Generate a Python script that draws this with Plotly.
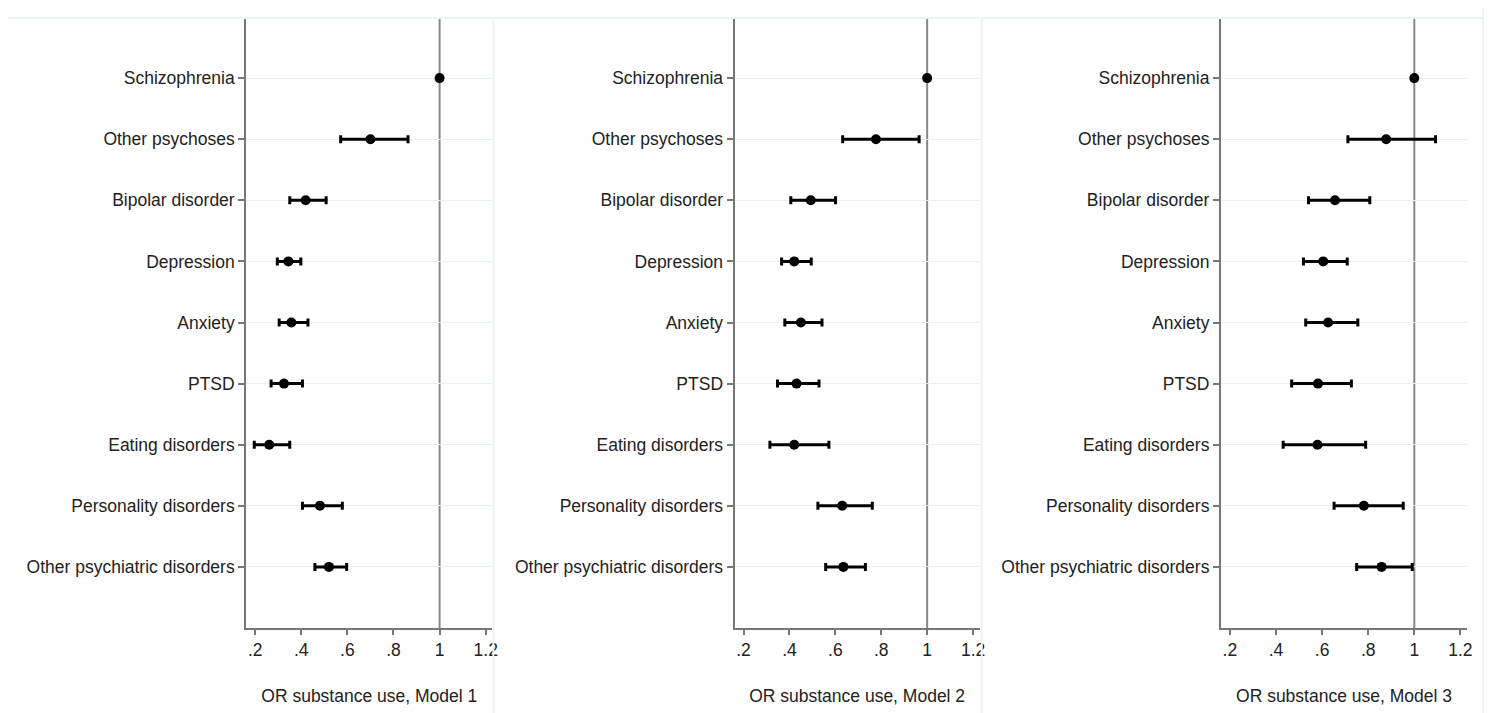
import plotly.graph_objects as go

categories = ["Schizophrenia", "Other psychoses", "Bipolar disorder", "Depression", "Anxiety",
              "PTSD", "Eating disorders", "Personality disorders", "Other psychiatric disorders"]
positions = [1, 2, 3, 4, 5, 6, 7, 8, 9]

m1_or = [1.0, 0.700, 0.419, 0.344, 0.357, 0.325, 0.261, 0.481, 0.520]
m1_lo = [1.0, 0.571, 0.350, 0.296, 0.304, 0.269, 0.196, 0.405, 0.459]
m1_hi = [1.0, 0.863, 0.508, 0.398, 0.429, 0.405, 0.350, 0.578, 0.597]

m2_or = [1.0, 0.777, 0.493, 0.421, 0.450, 0.431, 0.421, 0.630, 0.635]
m2_lo = [1.0, 0.632, 0.406, 0.366, 0.380, 0.348, 0.315, 0.524, 0.558]
m2_hi = [1.0, 0.965, 0.601, 0.495, 0.542, 0.529, 0.572, 0.761, 0.731]

m3_or = [1.0, 0.878, 0.656, 0.605, 0.626, 0.582, 0.580, 0.781, 0.858]
m3_lo = [1.0, 0.712, 0.541, 0.519, 0.529, 0.468, 0.431, 0.652, 0.750]
m3_hi = [1.0, 1.092, 0.807, 0.709, 0.755, 0.727, 0.789, 0.952, 0.991]

x_ticks = [0.2, 0.4, 0.6, 0.8, 1.0, 1.2]
x_ticktext = [".2", ".4", ".6", ".8", "1", "1.2"]
titles = ["OR substance use, Model 1", "OR substance use, Model 2", "OR substance use, Model 3"]

models = [(m1_or, m1_lo, m1_hi), (m2_or, m2_lo, m2_hi), (m3_or, m3_lo, m3_hi)]

# page body has an 8px margin, so the figure is 8px smaller than the window
W, H = 1491, 705
OFF = 8
def px_x(p):
    return (p - OFF) / W
def px_y(p):
    return 1 - (p - OFF) / H

x_domains = [(px_x(247), px_x(494)), (px_x(737), px_x(983)), (px_x(1225), px_x(1472))]
y_domain = (px_y(628), px_y(17))

FONT = "Liberation Sans, Arial, sans-serif"
TXT = "#222222"
FS = 17.5

fig = go.Figure()
layout = dict(
    width=W, height=H,
    margin=dict(l=0, r=0, t=0, b=0),
    paper_bgcolor="white", plot_bgcolor="white",
    showlegend=False,
    font=dict(family=FONT, size=FS, color=TXT),
)

for i, ((orv, lo, hi), dom, ttl) in enumerate(zip(models, x_domains, titles)):
    n = "" if i == 0 else str(i + 1)
    plus = [h - o for h, o in zip(hi, orv)]
    minus = [o - l for o, l in zip(orv, lo)]
    fig.add_trace(go.Scatter(
        x=orv, y=positions, mode="markers",
        marker=dict(color="black", size=10),
        error_x=dict(type="data", symmetric=False, array=plus, arrayminus=minus,
                     color="black", thickness=3, width=4),
        xaxis="x" + n, yaxis="y" + n, hoverinfo="skip",
    ))
    layout["xaxis" + n] = dict(
        domain=list(dom), anchor="y" + n, range=[0.161, 1.229],
        tickvals=x_ticks, ticktext=x_ticktext,
        showgrid=False, zeroline=False,
        showline=True, linecolor="#777777", linewidth=2,
        ticks="outside", ticklen=5, tickcolor="#777777", tickwidth=1.5,
        tickfont=dict(size=FS, color=TXT, family=FONT),
        title=dict(text=ttl, font=dict(size=FS, color=TXT, family=FONT), standoff=31),
    )
    layout["yaxis" + n] = dict(
        domain=list(y_domain), anchor="x" + n, range=[10, 0],
        tickvals=positions, ticktext=categories,
        showgrid=True, gridcolor="#e8f1f2", gridwidth=1, zeroline=False,
        showline=True, linecolor="#777777", linewidth=2,
        ticks="outside", ticklen=6, tickcolor="#777777", tickwidth=1.5,
        tickfont=dict(size=FS, color=TXT, family=FONT),
    )

fig.update_layout(**layout)

# reference line at OR = 1 in each panel
for i in range(3):
    n = "" if i == 0 else str(i + 1)
    fig.add_shape(type="line", xref="x" + n, yref="y" + n + " domain",
                  x0=1, x1=1, y0=0, y1=1, line=dict(color="#888888", width=2), layer="below")

# faint panel borders
border = "#eef4f4"
top = px_y(18)
segs = [
    (px_x(8), top, px_x(494), top),
    (px_x(495), 0, px_x(495), top),
    (px_x(495), top, px_x(983), top),
    (px_x(985), 0, px_x(985), top),
    (px_x(985), top, px_x(1488), top),
    (px_x(1488), 0, px_x(1488), 1),
]
for x0, y0, x1, y1 in segs:
    fig.add_shape(type="line", xref="paper", yref="paper", x0=x0, x1=x1, y0=y0, y1=y1,
                  line=dict(color=border, width=2))

fig.write_html("out.html")
